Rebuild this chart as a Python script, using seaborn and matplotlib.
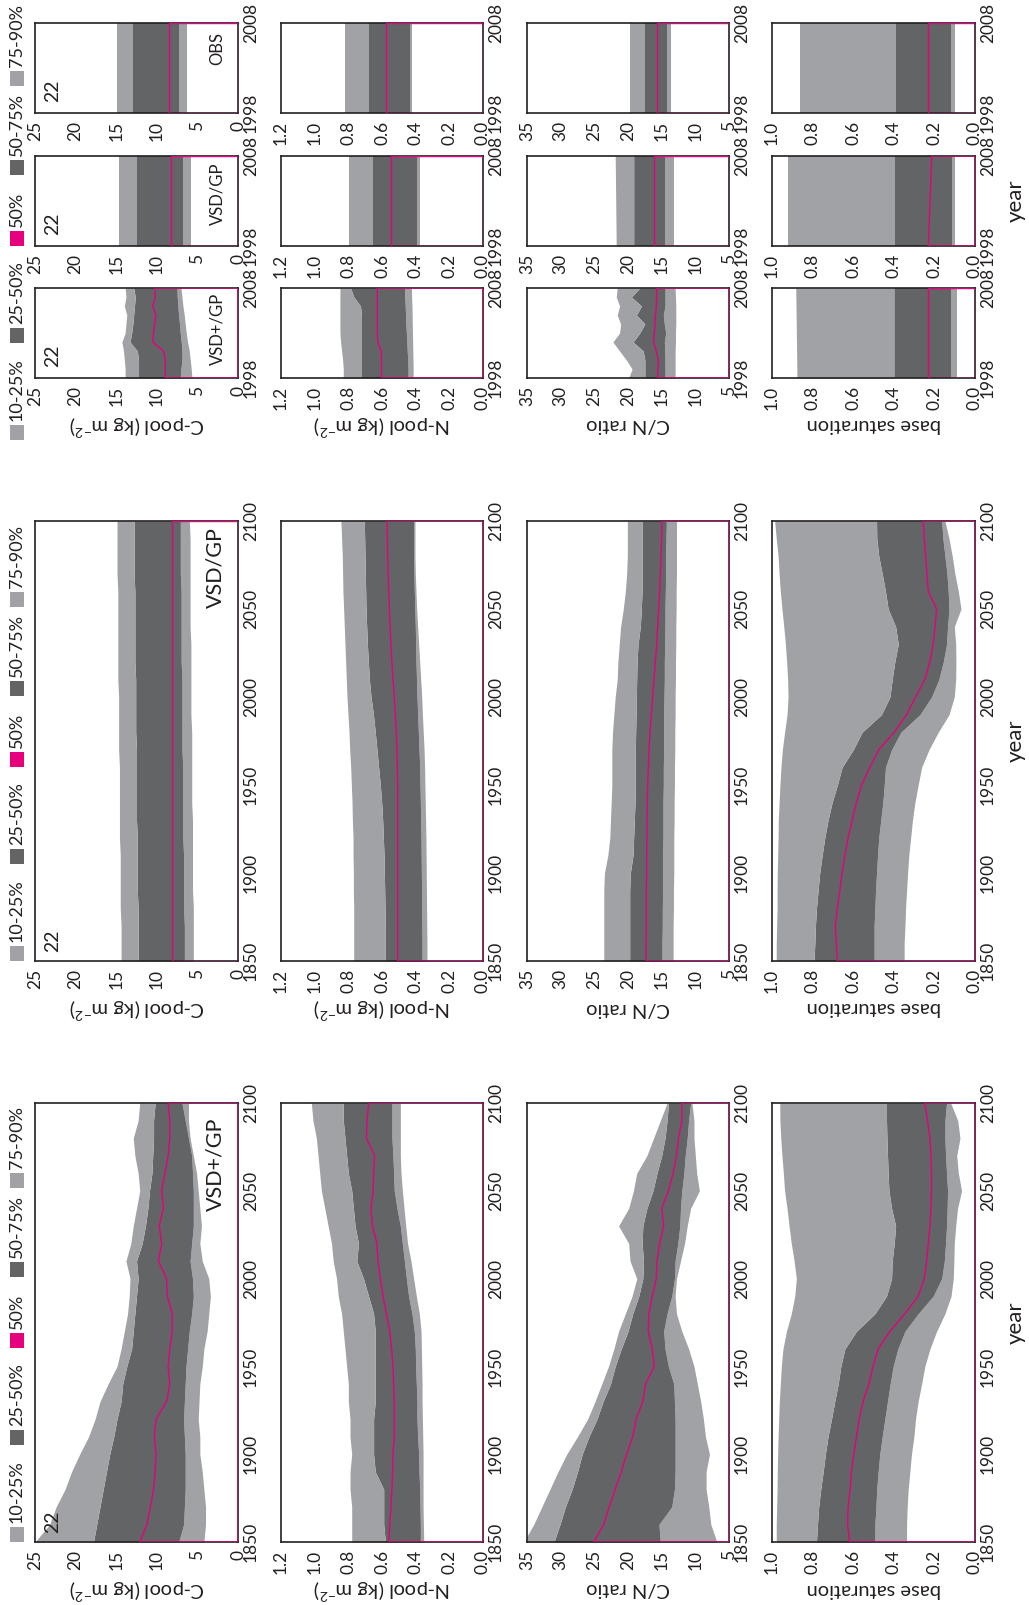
import numpy as np
import matplotlib
matplotlib.use("Agg")
import matplotlib.pyplot as plt
import seaborn as sns
from matplotlib.patches import Rectangle

W, H = 1029, 1605  # output size in pixels
LIGHT = "#a1a2a5"
DARK = "#636466"
MAGENTA = "#e6007e"
INK = "#231f20"

# ---------------- data ----------------
YEARS = [1850, 1860, 1870, 1880, 1890, 1900, 1910, 1920, 1930, 1940, 1950, 1960, 1970,
         1980, 1990, 2000, 2010, 2020, 2030, 2040, 2050, 2060, 2070, 2080, 2090, 2100]
YEARS_OBS = [1998, 1999, 2000, 2001, 2002, 2003, 2004, 2005, 2006, 2007, 2008]
YEARS_FLAT = [1998, 2008]

# VSD+/GP, 1850-2100
cpool_plus_q10 = [4.2, 4.0, 4.0, 4.2, 4.4, 4.7, 4.7, 4.9, 4.8, 4.7, 4.4, 4.2, 3.8, 3.6, 3.4, 3.6, 4.4, 4.7, 4.5, 4.7, 4.9, 5.1, 5.5, 5.9, 6.1, 6.1]
cpool_plus_q25 = [7.3, 6.7, 6.6, 6.5, 6.5, 6.5, 6.6, 6.7, 6.6, 6.5, 6.4, 6.2, 6.0, 5.7, 5.5, 5.6, 5.9, 5.7, 5.5, 5.5, 5.5, 5.6, 5.7, 6.1, 6.5, 6.9]
cpool_plus_q50 = [12.1, 11.2, 10.8, 10.4, 10.2, 10.1, 10.3, 10.1, 8.8, 8.4, 8.6, 8.4, 8.1, 8.1, 8.7, 8.8, 9.8, 9.4, 9.7, 9.2, 9.4, 9.0, 8.6, 8.4, 8.4, 8.6]
cpool_plus_q75 = [17.8, 17.4, 17.0, 16.6, 16.2, 15.8, 15.3, 14.9, 14.4, 14.2, 13.7, 13.1, 12.9, 12.7, 12.5, 12.3, 12.5, 11.8, 11.4, 11.1, 10.9, 10.6, 10.5, 10.4, 10.4, 10.2]
cpool_plus_q90 = [25.0, 23.2, 22.4, 21.3, 20.5, 19.5, 18.4, 17.6, 17.0, 16.0, 14.9, 14.4, 14.0, 13.6, 13.4, 13.3, 13.8, 13.2, 12.9, 12.5, 12.1, 12.3, 12.7, 12.9, 12.3, 12.1]

npool_plus_q10 = [0.352, 0.354, 0.356, 0.356, 0.356, 0.356, 0.358, 0.360, 0.362, 0.362, 0.364, 0.366, 0.368, 0.378, 0.396, 0.412, 0.428, 0.448, 0.459, 0.469, 0.479, 0.487, 0.491, 0.491, 0.491, 0.491]
npool_plus_q25 = [0.372, 0.372, 0.374, 0.376, 0.380, 0.382, 0.388, 0.392, 0.392, 0.396, 0.400, 0.402, 0.408, 0.422, 0.442, 0.455, 0.467, 0.479, 0.491, 0.511, 0.527, 0.531, 0.535, 0.541, 0.541, 0.541]
npool_plus_q50 = [0.560, 0.554, 0.547, 0.541, 0.537, 0.535, 0.527, 0.527, 0.527, 0.531, 0.535, 0.543, 0.554, 0.574, 0.594, 0.610, 0.624, 0.630, 0.657, 0.665, 0.653, 0.650, 0.644, 0.693, 0.689, 0.679]
npool_plus_q75 = [0.58, 0.59, 0.59, 0.59, 0.64, 0.65, 0.65, 0.65, 0.64, 0.64, 0.64, 0.64, 0.64, 0.65, 0.68, 0.71, 0.75, 0.74, 0.76, 0.77, 0.78, 0.80, 0.81, 0.82, 0.83, 0.83]
npool_plus_q90 = [0.78, 0.78, 0.78, 0.79, 0.79, 0.78, 0.79, 0.79, 0.80, 0.80, 0.81, 0.82, 0.83, 0.84, 0.86, 0.87, 0.89, 0.90, 0.92, 0.94, 0.96, 0.97, 0.98, 0.99, 1.01, 1.02]

cn_plus_q10 = [6.8, 7.7, 8.0, 8.4, 8.4, 7.9, 8.5, 8.8, 9.2, 9.7, 10.2, 11.0, 12.0, 12.8, 13.0, 12.8, 12.2, 11.6, 11.2, 10.7, 9.4, 9.8, 10.0, 10.2, 10.2, 10.5]
cn_plus_q25 = [15.2, 15.4, 13.5, 13.1, 13.0, 13.0, 13.0, 13.0, 13.1, 13.2, 14.0, 14.5, 14.7, 14.2, 13.5, 13.1, 13.0, 12.6, 12.3, 12.2, 12.0, 11.7, 11.5, 11.2, 11.0, 10.7]
cn_plus_q50 = [25.1, 23.6, 22.8, 21.9, 21.0, 20.2, 19.3, 18.8, 17.8, 17.4, 16.1, 16.4, 17.0, 16.9, 16.4, 15.8, 15.7, 15.3, 14.7, 15.0, 14.0, 13.3, 12.8, 12.5, 12.0, 12.0]
cn_plus_q75 = [31.0, 30.1, 29.3, 28.3, 27.5, 26.8, 25.8, 24.6, 23.7, 22.6, 21.9, 21.0, 20.0, 19.3, 18.4, 17.8, 17.7, 17.9, 17.8, 17.2, 16.3, 15.7, 15.0, 14.5, 14.2, 14.0]
cn_plus_q90 = [35.5, 34.0, 32.8, 31.6, 30.4, 29.1, 27.5, 26.0, 24.9, 23.9, 22.9, 22.1, 21.4, 20.4, 19.4, 18.7, 19.7, 19.9, 21.4, 19.9, 19.2, 18.7, 17.2, 16.2, 15.2, 14.2]

bsat_plus_q10 = [0.337, 0.337, 0.334, 0.329, 0.321, 0.313, 0.301, 0.293, 0.280, 0.263, 0.247, 0.222, 0.189, 0.148, 0.118, 0.107, 0.104, 0.102, 0.095, 0.086, 0.066, 0.082, 0.090, 0.074, 0.085, 0.120]
bsat_plus_q25 = [0.493, 0.493, 0.488, 0.484, 0.477, 0.469, 0.457, 0.444, 0.431, 0.418, 0.403, 0.380, 0.345, 0.280, 0.206, 0.164, 0.151, 0.145, 0.140, 0.137, 0.135, 0.140, 0.145, 0.148, 0.148, 0.140]
bsat_plus_q50 = [0.617, 0.628, 0.625, 0.615, 0.609, 0.597, 0.584, 0.571, 0.551, 0.523, 0.502, 0.477, 0.419, 0.345, 0.280, 0.250, 0.238, 0.230, 0.222, 0.217, 0.214, 0.214, 0.217, 0.222, 0.234, 0.247]
bsat_plus_q75 = [0.781, 0.776, 0.770, 0.760, 0.748, 0.737, 0.724, 0.707, 0.691, 0.674, 0.661, 0.641, 0.584, 0.493, 0.436, 0.411, 0.408, 0.398, 0.391, 0.411, 0.424, 0.428, 0.431, 0.434, 0.436, 0.436]
bsat_plus_q90 = [0.979, 0.979, 0.977, 0.975, 0.974, 0.972, 0.970, 0.967, 0.964, 0.959, 0.954, 0.946, 0.929, 0.905, 0.888, 0.880, 0.891, 0.905, 0.916, 0.926, 0.938, 0.944, 0.951, 0.957, 0.961, 0.962]

# VSD/GP, 1850-2100
cpool_vsd_q10 = [5.5, 5.5, 5.5, 5.5, 5.6, 5.6, 5.6, 5.6, 5.6, 5.7, 5.7, 5.7, 5.7, 5.7, 5.8, 5.8, 5.8, 5.8, 5.8, 5.9, 5.9, 5.9, 5.9, 5.9, 5.9, 6.0]
cpool_vsd_q25 = [6.6, 6.6, 6.6, 6.7, 6.7, 6.7, 6.7, 6.8, 6.8, 6.8, 6.8, 6.8, 6.9, 6.9, 6.9, 6.9, 6.9, 7.0, 7.0, 7.0, 7.0, 7.0, 7.1, 7.1, 7.1, 7.1]
cpool_vsd_q50 = [8.1, 8.1, 8.1, 8.1, 8.1, 8.1, 8.1, 8.1, 8.1, 8.1, 8.1, 8.1, 8.1, 8.1, 8.1, 8.1, 8.1, 8.1, 8.1, 8.1, 8.1, 8.1, 8.1, 8.1, 8.1, 8.1]
cpool_vsd_q75 = [12.3, 12.3, 12.3, 12.3, 12.4, 12.4, 12.4, 12.4, 12.5, 12.5, 12.5, 12.5, 12.5, 12.6, 12.6, 12.6, 12.6, 12.7, 12.7, 12.7, 12.7, 12.7, 12.8, 12.8, 12.8, 12.8]
cpool_vsd_q90 = [14.4, 14.4, 14.4, 14.5, 14.5, 14.5, 14.5, 14.6, 14.6, 14.6, 14.6, 14.6, 14.7, 14.7, 14.7, 14.7, 14.8, 14.8, 14.8, 14.8, 14.8, 14.8, 14.9, 14.9, 14.9, 14.9]

npool_vsd_q10 = [0.333, 0.333, 0.334, 0.335, 0.336, 0.337, 0.338, 0.339, 0.341, 0.343, 0.345, 0.347, 0.350, 0.355, 0.360, 0.364, 0.370, 0.376, 0.382, 0.388, 0.394, 0.398, 0.402, 0.404, 0.404, 0.404]
npool_vsd_q25 = [0.362, 0.362, 0.363, 0.364, 0.365, 0.366, 0.367, 0.368, 0.370, 0.372, 0.374, 0.376, 0.380, 0.384, 0.388, 0.392, 0.395, 0.398, 0.400, 0.402, 0.405, 0.408, 0.410, 0.412, 0.412, 0.412]
npool_vsd_q50 = [0.507, 0.507, 0.507, 0.507, 0.507, 0.507, 0.507, 0.507, 0.507, 0.507, 0.507, 0.509, 0.511, 0.515, 0.521, 0.527, 0.535, 0.541, 0.547, 0.552, 0.556, 0.560, 0.564, 0.566, 0.568, 0.570]
npool_vsd_q75 = [0.580, 0.580, 0.580, 0.582, 0.584, 0.586, 0.588, 0.592, 0.596, 0.602, 0.610, 0.620, 0.630, 0.640, 0.651, 0.665, 0.675, 0.681, 0.687, 0.691, 0.695, 0.697, 0.699, 0.701, 0.703, 0.705]
npool_vsd_q90 = [0.768, 0.768, 0.768, 0.768, 0.770, 0.770, 0.772, 0.772, 0.776, 0.778, 0.782, 0.786, 0.792, 0.796, 0.802, 0.808, 0.812, 0.816, 0.820, 0.824, 0.828, 0.832, 0.834, 0.836, 0.840, 0.844]

cn_vsd_q10 = [13.3, 13.3, 13.3, 13.25, 13.25, 13.2, 13.2, 13.2, 13.15, 13.15, 13.1, 13.1, 13.05, 13.05, 13.0, 13.0, 12.95, 12.95, 12.9, 12.9, 12.85, 12.85, 12.8, 12.8, 12.8, 12.8]
cn_vsd_q25 = [14.95, 14.95, 14.9, 14.9, 14.85, 14.85, 14.85, 14.8, 14.8, 14.8, 14.75, 14.75, 14.7, 14.7, 14.7, 14.65, 14.6, 14.6, 14.55, 14.5, 14.5, 14.45, 14.4, 14.4, 14.35, 14.3]
cn_vsd_q50 = [17.33, 17.33, 17.28, 17.28, 17.28, 17.23, 17.23, 17.18, 17.18, 17.13, 17.08, 16.98, 16.88, 16.73, 16.53, 16.34, 16.14, 15.94, 15.74, 15.59, 15.45, 15.30, 15.20, 15.10, 15.00, 14.95]
cn_vsd_q75 = [19.75, 19.75, 19.75, 19.75, 19.75, 19.65, 19.26, 19.16, 19.06, 18.96, 18.91, 18.91, 18.91, 18.86, 18.81, 18.76, 18.71, 18.66, 18.51, 18.17, 18.02, 17.92, 17.92, 17.92, 17.92, 17.92]
cn_vsd_q90 = [23.6, 23.6, 23.6, 23.6, 23.6, 23.5, 23.0, 22.7, 22.6, 22.5, 22.4, 22.4, 22.4, 22.3, 22.1, 21.9, 21.6, 21.5, 21.3, 21.1, 20.7, 20.4, 20.2, 20.1, 20.1, 20.1]

bsat_vsd_q10 = [0.349, 0.349, 0.345, 0.342, 0.337, 0.332, 0.326, 0.317, 0.308, 0.296, 0.280, 0.263, 0.227, 0.181, 0.128, 0.102, 0.095, 0.094, 0.095, 0.102, 0.069, 0.082, 0.099, 0.112, 0.128, 0.148]
bsat_vsd_q25 = [0.497, 0.497, 0.497, 0.493, 0.490, 0.485, 0.480, 0.474, 0.464, 0.454, 0.447, 0.441, 0.411, 0.365, 0.271, 0.214, 0.178, 0.156, 0.140, 0.135, 0.128, 0.132, 0.138, 0.148, 0.158, 0.164]
bsat_vsd_q50 = [0.678, 0.683, 0.688, 0.678, 0.666, 0.655, 0.641, 0.625, 0.605, 0.584, 0.559, 0.518, 0.474, 0.398, 0.337, 0.293, 0.247, 0.222, 0.206, 0.197, 0.189, 0.230, 0.237, 0.243, 0.250, 0.255]
bsat_vsd_q75 = [0.793, 0.789, 0.786, 0.781, 0.773, 0.765, 0.753, 0.740, 0.724, 0.704, 0.678, 0.655, 0.600, 0.556, 0.461, 0.419, 0.408, 0.395, 0.378, 0.391, 0.428, 0.441, 0.457, 0.474, 0.484, 0.485]
bsat_vsd_q90 = [0.979, 0.979, 0.977, 0.975, 0.975, 0.974, 0.972, 0.970, 0.969, 0.965, 0.961, 0.956, 0.949, 0.938, 0.926, 0.921, 0.923, 0.928, 0.934, 0.942, 0.951, 0.959, 0.965, 0.970, 0.979, 0.987]

# 1998-2008, VSD+/GP
cpool_obs_plus_q10 = [5.67, 5.76, 5.88, 6.0, 6.21, 6.37, 6.5, 6.62, 6.78, 6.9, 7.03]
cpool_obs_plus_q25 = [7.11, 7.03, 6.9, 6.9, 6.99, 7.11, 7.2, 7.32, 7.4, 7.48, 7.52]
cpool_obs_plus_q50 = [8.96, 8.96, 8.96, 9.17, 10.49, 10.40, 10.28, 10.12, 10.49, 10.20, 10.20]
cpool_obs_plus_q75 = [12.25, 12.25, 12.25, 12.4, 13.3, 13.1, 12.95, 12.85, 12.75, 12.65, 12.85]
cpool_obs_plus_q90 = [13.9, 13.9, 14.0, 14.1, 14.3, 13.9, 13.8, 13.7, 14.0, 13.8, 13.9]

npool_obs_plus_q10 = [0.415, 0.415, 0.416, 0.417, 0.418, 0.419, 0.420, 0.421, 0.422, 0.424, 0.425]
npool_obs_plus_q25 = [0.445, 0.445, 0.447, 0.450, 0.452, 0.455, 0.458, 0.460, 0.462, 0.465, 0.465]
npool_obs_plus_q50 = [0.603, 0.603, 0.603, 0.605, 0.625, 0.628, 0.628, 0.628, 0.628, 0.628, 0.628]
npool_obs_plus_q75 = [0.722, 0.722, 0.722, 0.722, 0.722, 0.722, 0.722, 0.722, 0.728, 0.767, 0.787]
npool_obs_plus_q90 = [0.830, 0.830, 0.834, 0.840, 0.846, 0.850, 0.850, 0.850, 0.850, 0.850, 0.850]

cn_obs_plus_q10 = [13.0, 13.0, 13.0, 13.0, 12.95, 12.95, 12.9, 12.9, 12.9, 12.95, 13.0]
cn_obs_plus_q25 = [14.5, 14.5, 14.5, 14.55, 14.6, 14.4, 14.6, 14.75, 14.5, 14.5, 14.5]
cn_obs_plus_q50 = [15.6, 15.55, 15.5, 15.8, 16.2, 16.1, 16.0, 15.9, 15.8, 15.75, 15.75]
cn_obs_plus_q75 = [17.5, 17.5, 17.5, 17.75, 19.25, 18.25, 17.5, 18.75, 18.0, 19.5, 18.25]
cn_obs_plus_q90 = [19.9, 19.4, 20.25, 21.25, 22.25, 21.25, 21.1, 21.6, 21.25, 21.75, 21.6]

bsat_obs_plus = [[0.088, 0.088], [0.117, 0.117], [0.233, 0.233], [0.397, 0.397], [0.877, 0.883]]

# 1998-2008, VSD/GP (q10, q25, q50, q75, q90 at 1998 and 2008)
cpool_obs_vsd = [[5.76, 5.76], [6.8, 6.8], [8.26, 8.26], [12.45, 12.45], [14.6, 14.6]]
npool_obs_vsd = [[0.372, 0.372], [0.395, 0.395], [0.544, 0.544], [0.652, 0.652], [0.795, 0.795]]
cn_obs_vsd = [[13.1, 13.1], [14.5, 14.5], [16.1, 16.1], [19.1, 19.1], [21.75, 21.9]]
bsat_obs_vsd = [[0.097, 0.097], [0.113, 0.113], [0.230, 0.213], [0.393, 0.393], [0.922, 0.922]]

# 1998-2008, observations
cpool_obs = [[6.3, 6.3], [7.3, 7.3], [8.55, 8.55], [12.95, 12.95], [14.9, 14.9]]
npool_obs = [[0.419, 0.419], [0.435, 0.435], [0.577, 0.577], [0.676, 0.676], [0.820, 0.820]]
cn_obs = [[13.6, 13.6], [14.25, 14.25], [15.75, 15.75], [17.5, 17.5], [19.75, 19.75]]
bsat_obs = [[0.097, 0.097], [0.117, 0.117], [0.233, 0.233], [0.388, 0.388], [0.863, 0.863]]

VAR_LABELS = ["C-pool (kg m$^{-2}$)", "N-pool (kg m$^{-2}$)", "C/N ratio", "base saturation"]
LEGEND_LABELS = ["10-25%", "25-50%", "50%", "50-75%", "75-90%"]
SITE = "22"

# ---------------- layout ----------------
COL_X = [(35, 238), (281, 483), (527, 729), (772, 975)]
ROW_LONG_PLUS = (1103, 1542)
ROW_LONG_VSD = (521, 961)
ROW_SHORT_PLUS = (288, 378)
ROW_SHORT_VSD = (156, 246)
ROW_SHORT_OBS = (23, 113)

VAR_AXES = [
    ((0, 25), [0, 5, 10, 15, 20, 25], "{:.0f}"),
    ((0, 1.2), [0, 0.2, 0.4, 0.6, 0.8, 1.0, 1.2], "{:.1f}"),
    ((5, 35), [5, 10, 15, 20, 25, 30, 35], "{:.0f}"),
    ((0, 1.0), [0, 0.2, 0.4, 0.6, 0.8, 1.0], "{:.1f}"),
]

sns.set_theme(style="white")
plt.rcParams["font.family"] = ["Lato", "DejaVu Sans"]
plt.rcParams["mathtext.fontset"] = "custom"
plt.rcParams["mathtext.rm"] = "Lato"
plt.rcParams["text.color"] = INK

fig = plt.figure(figsize=(W / 100, H / 100), dpi=100)
fig.patch.set_facecolor("white")


def fx(x):
    return x / W


def fy(y):
    return 1 - y / H


def add_panel(col, row, years, q, ylim, yticks):
    (x0, x1), (y0, y1) = COL_X[col], row
    ax = fig.add_axes([fx(x0), fy(y1), (x1 - x0) / W, (y1 - y0) / H])
    vlim, vticks, vfmt = VAR_AXES[col]
    q10, q25, q50, q75, q90 = q
    ax.fill_betweenx(years, q10, q25, color=LIGHT, lw=0)
    ax.fill_betweenx(years, q25, q75, color=DARK, lw=0)
    ax.fill_betweenx(years, q75, q90, color=LIGHT, lw=0)
    # median drawn as an outline closed against the axis minimum
    ax.fill_betweenx(years, vlim[0], q50, facecolor="none", edgecolor=MAGENTA,
                     linewidth=1.0, zorder=3)
    ax.set_xlim(vlim[1], vlim[0])
    ax.set_ylim(*ylim)
    ax.set_xticks(vticks)
    ax.set_xticklabels([vfmt.format(v) for v in vticks], rotation=90, ha="center", va="top")
    ax.yaxis.tick_right()
    ax.set_yticks(yticks)
    ax.set_yticklabels([str(y) for y in yticks], rotation=90, ha="left", va="center")
    ax.tick_params(length=0, labelsize=12.5, labelcolor=INK)
    ax.tick_params(axis="x", pad=5.5)
    ax.tick_params(axis="y", pad=3.5)
    ax.grid(False)
    for s in ax.spines.values():
        s.set_color(INK)
        s.set_linewidth(1.2)
    return ax


def add_legend(bottom):
    offsets = [0, 97, 194, 265, 354]
    colors = [LIGHT, DARK, MAGENTA, DARK, LIGHT]
    for off, lab, c in zip(offsets, LEGEND_LABELS, colors):
        yb = bottom - off
        fig.patches.append(Rectangle((fx(10), fy(yb)), 14 / W, 15 / H,
                                     transform=fig.transFigure, color=c, lw=0))
        fig.text(fx(17), fy(yb - 19), lab, rotation=90, ha="center", va="bottom",
                 fontsize=13)


long_plus = [
    (cpool_plus_q10, cpool_plus_q25, cpool_plus_q50, cpool_plus_q75, cpool_plus_q90),
    (npool_plus_q10, npool_plus_q25, npool_plus_q50, npool_plus_q75, npool_plus_q90),
    (cn_plus_q10, cn_plus_q25, cn_plus_q50, cn_plus_q75, cn_plus_q90),
    (bsat_plus_q10, bsat_plus_q25, bsat_plus_q50, bsat_plus_q75, bsat_plus_q90),
]
long_vsd = [
    (cpool_vsd_q10, cpool_vsd_q25, cpool_vsd_q50, cpool_vsd_q75, cpool_vsd_q90),
    (npool_vsd_q10, npool_vsd_q25, npool_vsd_q50, npool_vsd_q75, npool_vsd_q90),
    (cn_vsd_q10, cn_vsd_q25, cn_vsd_q50, cn_vsd_q75, cn_vsd_q90),
    (bsat_vsd_q10, bsat_vsd_q25, bsat_vsd_q50, bsat_vsd_q75, bsat_vsd_q90),
]
short_plus = [
    (YEARS_OBS, (cpool_obs_plus_q10, cpool_obs_plus_q25, cpool_obs_plus_q50, cpool_obs_plus_q75, cpool_obs_plus_q90)),
    (YEARS_OBS, (npool_obs_plus_q10, npool_obs_plus_q25, npool_obs_plus_q50, npool_obs_plus_q75, npool_obs_plus_q90)),
    (YEARS_OBS, (cn_obs_plus_q10, cn_obs_plus_q25, cn_obs_plus_q50, cn_obs_plus_q75, cn_obs_plus_q90)),
    (YEARS_FLAT, bsat_obs_plus),
]
short_vsd = [cpool_obs_vsd, npool_obs_vsd, cn_obs_vsd, bsat_obs_vsd]
short_obs = [cpool_obs, npool_obs, cn_obs, bsat_obs]

long_ticks = [1850, 1900, 1950, 2000, 2050, 2100]
short_ticks = [1998, 2008]

for col in range(4):
    a1 = add_panel(col, ROW_LONG_PLUS, YEARS, long_plus[col], (1850, 2100), long_ticks)
    a2 = add_panel(col, ROW_LONG_VSD, YEARS, long_vsd[col], (1850, 2100), long_ticks)
    yrs, q = short_plus[col]
    a3 = add_panel(col, ROW_SHORT_PLUS, yrs, q, (1998, 2008), short_ticks)
    a4 = add_panel(col, ROW_SHORT_VSD, YEARS_FLAT, short_vsd[col], (1998, 2008), short_ticks)
    a5 = add_panel(col, ROW_SHORT_OBS, YEARS_FLAT, short_obs[col], (1998, 2008), short_ticks)

    xc = (COL_X[col][0] + COL_X[col][1]) / 2
    for bottom in (ROW_LONG_PLUS[1], ROW_LONG_VSD[1], ROW_SHORT_PLUS[1]):
        fig.text(fx(xc), fy(bottom + 47), VAR_LABELS[col], rotation=180,
                 ha="center", va="center", fontsize=14.5)

    if col == 0:
        a1.text(0.085, 0.02, SITE, transform=a1.transAxes, rotation=90, ha="center", va="bottom", fontsize=14)
        a2.text(0.085, 0.02, SITE, transform=a2.transAxes, rotation=90, ha="center", va="bottom", fontsize=14)
        for a in (a3, a4, a5):
            a.text(0.085, 0.12, SITE, transform=a.transAxes, rotation=90, ha="center", va="bottom", fontsize=14)
        a1.text(0.89, 0.967, "VSD+/GP", transform=a1.transAxes, rotation=90, ha="center", va="top", fontsize=15.5)
        a2.text(0.89, 0.985, "VSD/GP", transform=a2.transAxes, rotation=90, ha="center", va="top", fontsize=15.5)
        a3.text(0.90, 0.95, "VSD+/GP", transform=a3.transAxes, rotation=90, ha="center", va="top", fontsize=12)
        a4.text(0.90, 0.93, "VSD/GP", transform=a4.transAxes, rotation=90, ha="center", va="top", fontsize=12)
        a5.text(0.90, 0.90, "OBS", transform=a5.transAxes, rotation=90, ha="center", va="top", fontsize=12)

for bottom in (ROW_LONG_PLUS[1], ROW_LONG_VSD[1], 440):
    add_legend(bottom)

for yc in ((ROW_LONG_PLUS[0] + ROW_LONG_PLUS[1]) / 2,
           (ROW_LONG_VSD[0] + ROW_LONG_VSD[1]) / 2,
           (ROW_SHORT_VSD[0] + ROW_SHORT_VSD[1]) / 2):
    fig.text(fx(1016), fy(yc), "year", rotation=90, ha="center", va="center", fontsize=16)

fig.savefig("out.png", dpi=100, facecolor="white")
